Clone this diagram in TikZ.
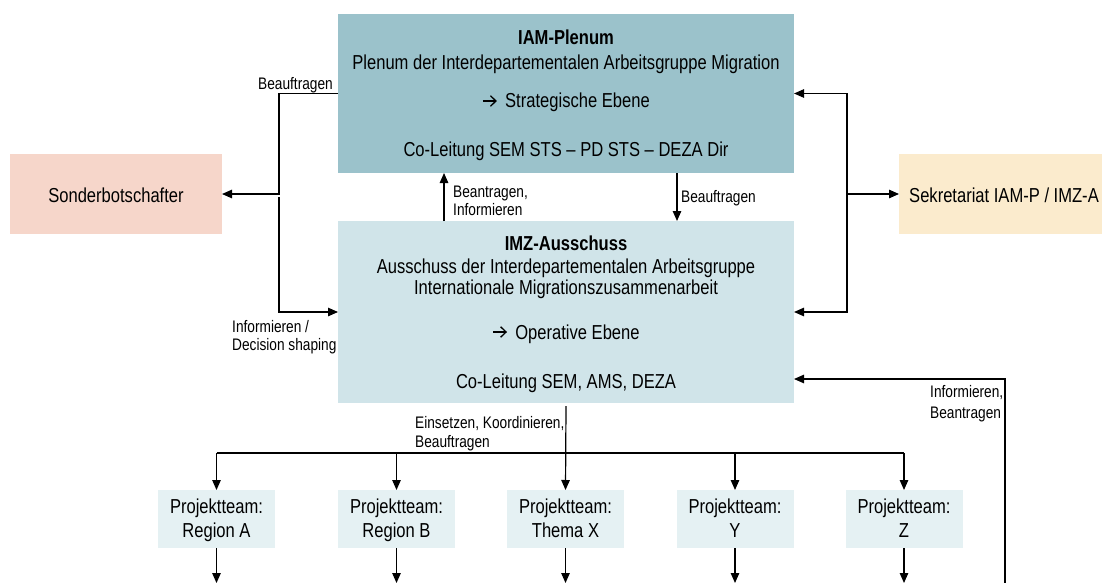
\documentclass[tikz,border=0pt]{standalone}
\usepackage{fontspec}
\setmainfont{Liberation Sans}[FakeStretch=0.82]
\usetikzlibrary{arrows.meta}
\definecolor{iamc}{RGB}{155,194,203}
\definecolor{imzc}{RGB}{208,228,233}
\definecolor{sonc}{RGB}{246,214,202}
\definecolor{sekc}{RGB}{251,235,205}
\definecolor{teamc}{RGB}{229,241,243}
\newcommand{\rarr}{\tikz[baseline=0pt]\draw[line width=1.3pt,-{Straight Barb[length=5.5pt,width=10.5pt]}] (0pt,7pt) -- (14pt,7pt);\hspace{3pt}}
\begin{document}
\begin{tikzpicture}[x=1pt,y=-1pt,
  mainf/.style={font=\fontsize{20.2}{22}\selectfont, inner sep=0pt},
  mainb/.style={font=\fontsize{20.2}{22}\selectfont\bfseries, inner sep=0pt},
  lblf/.style={font=\fontsize{16.7}{18}\selectfont, inner sep=0pt},
  box/.style={inner sep=0pt, outer sep=0pt, draw=none, rectangle},
  con/.style={line width=1.2pt, draw=black},
  arr/.style={con, -{Triangle[length=10pt,width=8.5pt]}}]
\useasboundingbox (0,0) rectangle (1102,583);
\clip (0,0) rectangle (1102,583);
% boxes
\node[box, fill=iamc, minimum width=456pt, minimum height=159pt] (iam) at (566,93.5) {};
\node[box, fill=imzc, minimum width=456pt, minimum height=182pt] (imz) at (566,312) {};
\node[box, fill=sonc, minimum width=212pt, minimum height=80pt] (sonder) at (116,194) {};
\node[box, fill=sekc, minimum width=211pt, minimum height=80pt] (sek) at (1004.5,194) {};
\foreach \n/\x in {tA/216.5, tB/396.5, tX/565.5, tY/735, tZ/904}{
  \node[box, fill=teamc, minimum width=117pt, minimum height=58pt] (\n) at (\x,519) {};
}
% box texts
\node[mainb, anchor=base] (iam1) at (566,45) {IAM-Plenum};
\node[mainf, anchor=base] (iam2) at (566,70) {Plenum der Interdepartementalen Arbeitsgruppe Migration};
\node[mainf, anchor=base] (iam3) at (566,108) {\rarr{} Strategische Ebene};
\node[mainf, anchor=base] (iam4) at (566,157) {Co-Leitung SEM STS – PD STS – DEZA Dir};
\node[mainb, anchor=base] (imz1) at (566,250) {IMZ-Ausschuss};
\node[mainf, anchor=base] (imz2) at (566,273) {Ausschuss der Interdepartementalen Arbeitsgruppe};
\node[mainf, anchor=base] (imz3) at (566,294) {Internationale Migrationszusammenarbeit};
\node[mainf, anchor=base] (imz4) at (566,339) {\rarr{} Operative Ebene};
\node[mainf, anchor=base] (imz5) at (566,388) {Co-Leitung SEM, AMS, DEZA};
\node[mainf, anchor=base] (sontext) at (116,202) {Sonderbotschafter};
\node[mainf, anchor=base west] (sektext) at (909,202) {Sekretariat IAM-P / IMZ-A};
\foreach \n/\t in {tA/Region A, tB/Region B, tX/Thema X, tY/Y, tZ/Z}{
  \node[mainf, anchor=base] (\n a) at (\n.center |- 0,513) {Projektteam:};
  \node[mainf, anchor=base] (\n b) at (\n.center |- 0,537) {\t};
}
% connectors
\coordinate (lj) at (279,197);
\draw[arr] (iam.west) -- ++(-59,0) |- (sonder.east);
\draw[arr] (lj) |- (imz.west);
\coordinate (rj) at (847,194);
\draw[arr] (rj) |- (iam.east);
\draw[arr] (rj) |- (imz.east);
\draw[arr] (rj) -- (sek.west);
\coordinate (upx) at (444,0);
\coordinate (dnx) at (677,0);
\draw[arr] (upx |- imz.north) -- (upx |- iam.south);
\draw[arr] (dnx |- iam.south) -- (dnx |- imz.north);
\coordinate (bus) at (0,453);
\draw[arr] ([yshift=-3pt]imz.south) -- (tX.north);
\draw[con] (tA.north |- bus) -- (tZ.north |- bus);
\foreach \n in {tA,tB,tY,tZ}{
  \draw[arr] (\n.north |- bus) -- (\n.north);
}
\coordinate (bot) at (0,583);
\foreach \n in {tA,tB,tX,tY,tZ}{
  \draw[arr] (\n.south) -- (\n.south |- bot);
}
\coordinate (rb) at (1005,590);
\coordinate (rt) at (1005,379);
\draw[arr] (rb) -- (rt) -- (imz.east |- rt);
% labels
\node[lblf, anchor=base east] (l1) at (333,90) {Beauftragen};
\node[lblf, anchor=base west] (l2a) at (453,197) {Beantragen,};
\node[lblf, anchor=base west] (l2b) at (453,215) {Informieren};
\node[lblf, anchor=base west] (l3) at (681,202) {Beauftragen};
\node[lblf, anchor=base west] (l4a) at (232,332) {Informieren /};
\node[lblf, anchor=base west] (l4b) at (232,350) {Decision shaping};
\node[lblf, anchor=base west] (l5a) at (415,428) {Einsetzen, Koordinieren,};
\node[lblf, anchor=base west] (l5b) at (415,447) {Beauftragen};
\node[lblf, anchor=base west] (l6a) at (930,397) {Informieren,};
\node[lblf, anchor=base west] (l6b) at (930,418) {Beantragen};
\end{tikzpicture}
\end{document}
